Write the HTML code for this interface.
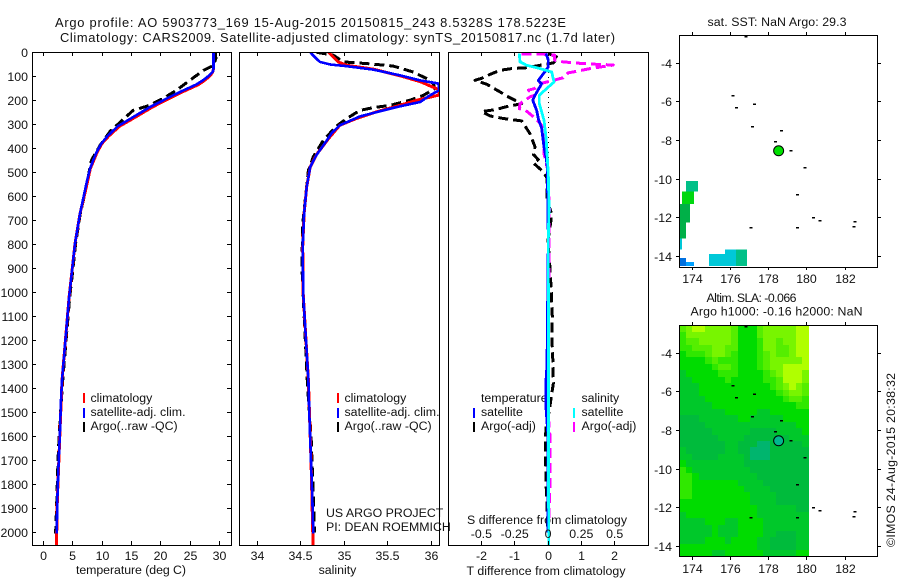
<!DOCTYPE html>
<html lang="en">
<head>
<meta charset="utf-8">
<title>Argo profile 5903773_169</title>
<style>
html,body{margin:0;padding:0;background:#fff;}
svg{display:block;font-family:"Liberation Sans",Arial,sans-serif;font-size:12.35px;fill:#000;}
text{fill:#111;}
.big{font-size:12.9px;}
</style>
</head>
<body>
<svg id="chart" width="900" height="580" viewBox="0 0 900 580" xmlns="http://www.w3.org/2000/svg">
<text class="big" x="55" y="27" textLength="511">Argo profile: AO 5903773_169 15-Aug-2015 20150815_243 8.5328S 178.5223E</text>
<text class="big" x="60" y="42" textLength="555">Climatology: CARS2009. Satellite-adjusted climatology: synTS_20150817.nc (1.7d later)</text>
<text x="131" y="574" text-anchor="middle" textLength="110">temperature (deg C)</text>
<text x="337.5" y="574" text-anchor="middle">salinity</text>
<text x="546" y="575" text-anchor="middle" textLength="159">T difference from climatology</text>
<text x="467" y="524" textLength="160">S difference from climatology</text>
<text x="90.5" y="402">climatology</text>
<text x="90.5" y="416" textLength="95">satellite-adj. clim.</text>
<text x="90.5" y="430">Argo(..raw -QC)</text>
<text x="344.5" y="402">climatology</text>
<text x="344.5" y="416" textLength="95">satellite-adj. clim.</text>
<text x="344.5" y="430">Argo(..raw -QC)</text>
<text x="326" y="517">US ARGO PROJECT</text>
<text x="326" y="531">PI: DEAN ROEMMICH</text>
<text x="481" y="402">temperature</text>
<text x="481" y="416">satellite</text>
<text x="481" y="430">Argo(-adj)</text>
<text x="581.5" y="402">salinity</text>
<text x="581.5" y="416">satellite</text>
<text x="581.5" y="430">Argo(-adj)</text>
<text x="707.5" y="26" textLength="139">sat. SST: NaN Argo: 29.3</text>
<text x="706.5" y="302" textLength="90">Altim. SLA: -0.066</text>
<text x="690.5" y="315.5" textLength="172">Argo h1000: -0.16 h2000: NaN</text>
<text transform="translate(895 547) rotate(-90)" textLength="174">©IMOS 24-Aug-2015 20:38:32</text>
<defs>
<clipPath id="clip-temp"><rect x="32" y="52" width="199.5" height="493"/></clipPath>
<clipPath id="clip-sal"><rect x="239" y="52" width="200.5" height="493"/></clipPath>
<clipPath id="clip-diff"><rect x="448" y="52" width="200.5" height="493"/></clipPath>
</defs>
</svg>
<script>
// Temperature panel data (dbar, deg C)
const tempBlueDepth=[0,68,80,96,115,135,165,193,228,270,308,350,380,415,450,485,530,575,672,797,922,1020,1367,1457,1575,1700,1867,2005];
const tempBlueValue=[29,29,28.9,28.3,27.3,26,23.3,21,18.2,15.3,12.7,10.9,9.9,9.1,8.5,7.95,7.5,7.1,6.25,5.4,4.84,4.4,3.19,3,2.85,2.62,2.39,2.28];
const tempRedDepth=[0,68,80,96,115,135,165,193,228,270,308,350,380,415,485,575,672,797,922,1020,1367,1575,1867,2005,2054];
const tempRedValue=[29,29,28.9,28.5,27.6,26.4,23.7,21.4,18.6,15.7,13,11.1,10,9.2,8,7.2,6.25,5.4,4.84,4.4,3.19,2.85,2.39,2.28,2.22];
const tempArgoDepth=[0,26,54,75,116,158,193,225,242,280,329,387,450,575,672,797,922,1020,1367,1575,1700,1867,2005];
const tempArgoValue=[29.3,29.4,29,27.3,25,22.7,20.4,17.6,15.3,13.6,11.4,9.7,8.2,7.2,6.3,5.5,4.95,4.5,3.3,2.75,2.5,2.3,2.1];
// Salinity panel data
const salBlueDepth=[0,19,40,51,58,72,96,117,130,158,180,207,225,242,267,304,335,367,429,478,561,672,811,1006,1367,1506,1714,1853,2005];
const salBlueValue=[34.61,34.66,34.72,34.84,35.03,35.33,35.64,35.87,36.08,36.09,35.98,35.87,35.64,35.45,35.18,34.95,34.86,34.8,34.68,34.61,34.57,34.54,34.524,34.53,34.59,34.6,34.62,34.634,34.646];
const salRedDepth=[0,40,54,70,98,122,155,178,200,225,248,276,304,360,425,478,561,672,811,1006,1367,1714,2005,2054];
const salRedValue=[34.82,34.93,35.03,35.33,35.64,35.87,36.08,36.09,35.83,35.6,35.37,35.14,34.95,34.82,34.685,34.61,34.57,34.54,34.524,34.53,34.59,34.62,34.64,34.64];
const salArgoDepth=[0,12,40,47,57,82,110,130,151,179,200,221,231,242,276,308,367,436,492,714,892,1017,1395,1600,2000];
const salArgoValue=[34.685,34.875,34.99,35.26,35.56,35.79,35.95,36.02,36.04,35.91,35.75,35.53,35.33,35.18,35.03,34.91,34.76,34.646,34.59,34.524,34.515,34.53,34.58,34.62,34.66];
// Difference panel data
const diffTBlueDepth=[5,33,61,75,117,131,179,200,242,276,318,394,436,478,783,1300,1367,1480,1600,2000];
const diffTBlueValue=[-0.06,0.01,0.01,-0.06,-0.29,-0.19,-0.39,-0.46,-0.34,-0.29,-0.19,-0.12,-0.06,-0.02,0.01,-0.03,-0.06,-0.06,0,0];
const diffSCyanDepth=[5,40,54,68,82,124,151,179,214,283,353,506,644,783,2054];
const diffSCyanValue=[-0.215,-0.21,-0.16,-0.06,0.0275,0.045,-0.01,-0.065,-0.065,-0.03,-0.015,0.0025,0.0075,0.0025,0.005];
const diffTArgoDepth=[5,22,44,54,64,68,75,92,108,117,133,165,186,214,228,238,247,265,276,286,339,394,425,447,461,492,520,561,617,672,700,783,900,1000,1100,1200,1300,1381,1443,1492,1561,1631,1686,1742,1797,1853,1922,1992];
const diffTArgoValue=[0.01,0.31,0.16,-0.24,-0.64,-1.09,-1.44,-1.74,-1.99,-2.19,-1.84,-1.44,-1.19,-0.79,-1.29,-1.54,-1.99,-1.74,-1.34,-0.79,-0.54,-0.39,-0.44,-0.29,-0.44,-0.19,-0.04,-0.02,-0.04,0.11,0.09,0,0.06,0.1,0.13,0.12,0.15,0.16,0.09,0.04,-0.06,-0.08,-0.08,-0.06,-0.06,-0.04,-0.02,-0.02];
const diffSArgoDepth=[8,8,12,33,40,47,51,53,68,79,86,106,117,131,151,158,172,179,186,214,235,241,280,304,353,422,482,644,769,1500,1600,1800,2000];
const diffSArgoValue=[-0.2,-0.035,0.05,0.05,0.115,0.265,0.39,0.49,0.315,0.215,0.15,0.115,0.04,-0.06,-0.098,-0.148,-0.11,-0.1,-0.135,-0.21,-0.215,-0.17,-0.085,-0.048,-0.03,-0.03,-0.005,0.01,0.0075,0,0.015,0.015,0.003];
// Axis labels
const depthTicks=[0,100,200,300,400,500,600,700,800,900,1000,1100,1200,1300,1400,1500,1600,1700,1800,1900,2000];
const tempTicks=[0,5,10,15,20,25,30];
const salTicks=[34,34.5,35,35.5,36];
const salTickLabels=['34','34.5','35','35.5','36'];
const diffTTicks=[-2,-1,0,1,2];
const diffSTicks=[-0.5,-0.25,0,0.25,0.5];
const diffSLabels=['-0.5','-0.25','0','0.25','0.5'];
const lonTicks=[174,176,178,180,182];
const latTicks=[-4,-6,-8,-10,-12,-14];
// Argo float location
const floatLon=178.5223;
const floatLat=-8.5328;
// Island positions
const islandLon=[176.81,176.12,176.31,177.27,177.15,178.67,178.37,179.16,179.91,179.51,180.36,180.7,182.53,182.48,177.08,179.51];
const islandLat=[-2.62,-5.66,-6.3,-6.12,-7.28,-7.47,-8.04,-8.53,-9.39,-10.79,-12,-12.15,-12.2,-12.46,-12.5,-12.5];
// SST swath patches
const sstLonMin=[173.67,173.46,173.33,173.33,173.33,173.33,173.67,174.87,175.71,176.29];
const sstLonMax=[174.3,174.09,173.88,173.67,173.46,173.67,174.09,175.71,176.29,176.86];
const sstLatMax=[-10.09,-10.64,-11.28,-12.24,-13.07,-14.09,-14.3,-13.89,-13.66,-13.66];
const sstLatMin=[-10.64,-11.28,-12.24,-13.07,-13.65,-14.5,-14.5,-14.5,-14.5,-14.5];
const sstLevel=[3,5,4,4,2,0,1,2,2,3];
const sstPalette=['#0070e0','#00a0ff','#00c8d8','#00c088','#00b048','#00d810'];
// SLA grid, colour level by row (north to south)
const slaLevels=[
[5,6,7,7,6,6,6,6,5,3,3,3,5,6,6,6,6,6,7,7],
[4,6,6,6,6,6,6,6,5,3,3,3,5,6,6,6,6,6,7,7],
[4,5,5,6,6,6,6,6,5,3,3,3,4,6,6,5,6,6,7,7],
[4,4,5,5,5,6,6,5,5,3,3,3,4,6,6,5,5,6,7,7],
[3,4,4,4,5,6,6,5,4,3,3,3,4,5,6,5,5,6,7,7],
[3,3,3,3,4,5,4,4,4,3,3,3,4,5,6,6,6,6,6,7],
[3,3,3,3,3,4,5,5,4,3,3,3,4,5,6,6,7,7,7,7],
[2,3,3,3,3,3,4,4,4,3,3,3,3,4,5,6,7,7,7,6],
[2,2,3,3,3,3,3,4,3,3,3,3,3,4,4,5,7,7,7,6],
[2,2,2,3,3,3,3,3,3,3,3,3,3,3,4,5,6,7,6,5],
[2,2,2,3,3,3,3,3,3,3,3,3,3,3,3,4,5,6,6,5],
[2,2,2,2,3,3,3,3,3,3,3,3,3,3,3,3,4,5,5,4],
[2,2,2,2,2,3,3,3,3,3,3,3,3,3,3,3,3,3,4,4],
[2,2,2,2,2,2,2,3,3,3,3,3,2,2,3,3,3,3,3,3],
[1,1,1,2,2,2,2,2,2,3,3,2,2,2,2,2,3,3,3,3],
[1,1,1,1,2,2,2,2,2,2,2,2,2,2,2,2,2,2,3,3],
[1,1,1,1,1,2,2,2,2,2,2,1,1,1,1,2,2,2,2,3],
[1,1,1,1,1,1,2,2,2,2,1,1,1,1,1,1,1,2,2,2],
[1,1,1,1,1,1,1,2,2,1,1,1,0,0,1,1,1,1,1,2],
[2,1,1,1,1,1,1,2,2,1,1,0,0,0,1,1,1,1,1,1],
[2,2,1,1,1,1,2,2,2,2,1,0,0,0,1,1,1,1,1,1],
[3,2,2,2,2,2,2,2,2,2,1,1,1,1,1,1,1,1,1,1],
[4,3,2,2,2,2,2,2,2,2,2,1,1,1,1,1,1,1,1,1],
[4,4,3,2,2,2,2,2,2,2,2,2,1,1,1,1,1,1,1,1],
[4,4,3,3,3,3,3,3,3,2,2,2,2,1,1,1,1,1,1,1],
[4,4,3,3,3,3,3,3,3,3,2,2,2,2,1,1,1,1,1,1],
[4,4,3,3,3,3,3,3,3,3,3,2,2,2,2,1,1,1,1,1],
[3,3,3,3,3,3,3,3,3,3,3,2,2,2,2,1,1,1,1,1],
[3,3,3,3,3,3,3,3,3,3,3,3,2,2,2,2,2,2,1,1],
[2,3,3,3,3,3,3,3,3,3,3,3,2,2,2,2,2,2,2,2],
[2,2,2,2,3,3,3,2,2,3,3,3,3,2,2,2,2,2,2,2],
[2,2,2,2,2,3,2,2,2,3,3,3,3,2,2,2,2,2,2,2],
[2,2,2,2,2,3,2,2,2,3,3,3,3,2,2,1,1,1,2,2],
[2,2,2,2,3,3,3,2,3,3,3,3,2,2,1,1,1,1,2,2],
[3,3,3,3,3,3,3,3,3,3,3,3,2,2,1,1,1,1,2,2],
[3,3,3,3,3,2,2,3,3,3,3,3,3,2,2,2,2,2,3,3]
];
const slaPalette=['#00b56e','#00bb3c','#00c82a','#00dc00','#30e800','#55ee00','#78f500','#b0ff00'];

const svg=document.getElementById('chart');
const NS='http://www.w3.org/2000/svg';
function mk(tag,attrs,parent){
  const el=document.createElementNS(NS,tag);
  for(const k in attrs)el.setAttribute(k,attrs[k]);
  (parent||svg).appendChild(el);
  return el;
}
const depthY=d=>52.3+d*0.24;
const tempX=t=>43.3+t*5.87;
const salX=s=>257+(s-34)*87.2;
const diffTX=t=>548+t*33.33;
const diffSX=s=>548+s*133.3;
const lonX=l=>692.3+(l-174)*19.09;
const map1Y=l=>63.3+(-4-l)*19.3;
const map2Y=l=>353.3+(-4-l)*19.3;

function drawLine(name,depths,values,xf,color,width,dash,clip){
  const pts=depths.map((d,i)=>xf(values[i]).toFixed(1)+','+depthY(d).toFixed(1)).join(' ');
  const el=mk('polyline',{points:pts,fill:'none',stroke:color,'stroke-width':width,'clip-path':'url(#'+clip+')','stroke-linejoin':'round','shape-rendering':'crispEdges'});
  if(dash)el.setAttribute('stroke-dasharray',dash);
  
  
}
function seg(name,x1,y1,x2,y2,color,w){
  const el=mk('line',{x1:x1,y1:y1,x2:x2,y2:y2,stroke:color||'#000','stroke-width':w||1,'shape-rendering':'crispEdges'});
  
  
  return el;
}
function label(name,x,y,str,anchor){
  const el=mk('text',{x:x,y:y,'text-anchor':anchor||'middle'});
  el.textContent=str;
  
  
}
function frame(name,x,y,w,h){
  const el=mk('rect',{x:x,y:y,width:w,height:h,fill:'none',stroke:'#000','stroke-width':1,'shape-rendering':'crispEdges'});
  
  
}

// SLA heatmap
const slaLeft=679.3,slaTop=325.3,slaCellW=6.47,slaCellH=6.43;
slaLevels.forEach((row,r)=>row.forEach((lv,c)=>{
  const x0=Math.round(slaLeft+c*slaCellW),x1=Math.round(slaLeft+(c+1)*slaCellW);
  const y0=Math.round(slaTop+r*slaCellH),y1=Math.round(slaTop+(r+1)*slaCellH);
  const el=mk('rect',{x:x0,y:y0,width:x1-x0,height:y1-y0,fill:slaPalette[lv],'shape-rendering':'crispEdges'});
  
  
}));
// SST patches
sstLonMin.forEach((lon,i)=>{
  const el=mk('rect',{x:lonX(lon),y:map1Y(sstLatMax[i]),width:lonX(sstLonMax[i])-lonX(lon),height:map1Y(sstLatMin[i])-map1Y(sstLatMax[i]),fill:sstPalette[sstLevel[i]],'shape-rendering':'crispEdges'});
  
  
});
// Islands on both maps
[map1Y,map2Y].forEach(yf=>{
  islandLon.forEach((lon,i)=>{
    const el=mk('rect',{x:lonX(lon)-1.5,y:yf(islandLat[i])-0.5,width:3,height:1.5,fill:'#000','shape-rendering':'crispEdges'});
    
    
  });
});
// Float markers
const sstMarker=mk('circle',{cx:lonX(floatLon),cy:map1Y(floatLat),r:5,fill:'#00e000',stroke:'#000','stroke-width':1});


const slaMarker=mk('circle',{cx:lonX(floatLon),cy:map2Y(floatLat),r:5,fill:'#00b890',stroke:'#000','stroke-width':1});



// Zero line on the difference panel
const zeroLine=seg('zero-line',diffTX(0)+0.5,52,diffTX(0)+0.5,545,'#000',1);
zeroLine.setAttribute('stroke-dasharray','1 4');

// Series
const argoDash='10 5';
drawLine('temperature-argo',tempArgoDepth,tempArgoValue,tempX,'#000',3,argoDash,'clip-temp');
drawLine('temperature-climatology',tempRedDepth,tempRedValue,tempX,'#ff0000',3,null,'clip-temp');
drawLine('temperature-satellite',tempBlueDepth,tempBlueValue,tempX,'#0000ff',2.6,null,'clip-temp');
drawLine('salinity-argo',salArgoDepth,salArgoValue,salX,'#000',3,argoDash,'clip-sal');
drawLine('salinity-climatology',salRedDepth,salRedValue,salX,'#ff0000',3,null,'clip-sal');
drawLine('salinity-satellite',salBlueDepth,salBlueValue,salX,'#0000ff',2.6,null,'clip-sal');
drawLine('t-difference-argo',diffTArgoDepth,diffTArgoValue,diffTX,'#000',3,argoDash,'clip-diff');
drawLine('s-difference-argo',diffSArgoDepth,diffSArgoValue,diffSX,'#ff00ff',3,argoDash,'clip-diff');
drawLine('t-difference-satellite',diffTBlueDepth,diffTBlueValue,diffTX,'#0000ff',2.8,null,'clip-diff');
drawLine('s-difference-satellite',diffSCyanDepth,diffSCyanValue,diffSX,'#00ffff',2.8,null,'clip-diff');

// Profile frames
frame('temperature-panel-frame',32.5,52.5,199,493);
frame('salinity-panel-frame',239.5,52.5,200,493);
frame('difference-panel-frame',448.5,52.5,200,493);
frame('sst-map-frame',679.5,35.5,198,232);
frame('sla-map-frame',679.5,325.5,198,231);

// Depth axis
depthTicks.forEach(d=>{
  const y=Math.floor(depthY(d))+0.5;
  seg('depth-tick',32,y,36,y);
  seg('depth-tick-right',227,y,231,y);
  label('depth-tick-label',28,y+4.5,String(d),'end');
});
// Temperature axis
tempTicks.forEach(t=>{
  const x=Math.floor(tempX(t))+0.5;
  seg('temperature-tick-top',x,52,x,56);
  seg('temperature-tick-bottom',x,541,x,545);
  label('temperature-tick-label',x,560,String(t));
});
// Salinity axis
salTicks.forEach((s,i)=>{
  const x=Math.floor(salX(s))+0.5;
  seg('salinity-tick-top',x,52,x,56);
  seg('salinity-tick-bottom',x,541,x,545);
  label('salinity-tick-label',x,560,salTickLabels[i]);
});
// Difference axes
diffTTicks.forEach(t=>{
  const x=Math.floor(diffTX(t))+0.5;
  seg('t-difference-tick-top',x,52,x,56);
  seg('t-difference-tick-bottom',x,541,x,545);
  label('t-difference-tick-label',x,560,String(t));
});
diffSTicks.forEach((s,i)=>{
  label('s-difference-tick-label',diffSX(s),538,diffSLabels[i]);
});
// Map axes
[[35,267,map1Y,283,'sst'],[325,557,map2Y,573,'sla']].forEach(m=>{
  lonTicks.forEach(l=>{
    const x=Math.floor(lonX(l))+0.5;
    seg(m[4]+'-lon-tick-top',x,m[0]-3,x,m[0]);
    seg(m[4]+'-lon-tick-bottom',x,m[1],x,m[1]+3);
    label(m[4]+'-lon-label',x,m[3],String(l));
  });
  latTicks.forEach(l=>{
    const y=Math.floor(m[2](l))+0.5;
    seg(m[4]+'-lat-tick-left',676,y,679,y);
    seg(m[4]+'-lat-tick-right',878,y,881,y);
    label(m[4]+'-lat-label',672,y+4.5,String(l),'end');
  });
});
// Legend swatches
seg('legend-swatch-climatology-temp',84,393,84,403,'#ff0000',2);
seg('legend-swatch-satellite-temp',84,408,84,418,'#0000ff',2);
seg('legend-swatch-argo-temp',84,422,84,432,'#000',2);
seg('legend-swatch-climatology-sal',338,393,338,403,'#ff0000',2);
seg('legend-swatch-satellite-sal',338,408,338,418,'#0000ff',2);
seg('legend-swatch-argo-sal',338,422,338,432,'#000',2);
seg('legend-swatch-temp-satellite',474,408,474,418,'#0000ff',2);
seg('legend-swatch-temp-argo',474,422,474,432,'#000',2);
seg('legend-swatch-sal-satellite',574,408,574,418,'#00ffff',2);
seg('legend-swatch-sal-argo',574,422,574,432,'#ff00ff',2);
</script>
</body>
</html>
